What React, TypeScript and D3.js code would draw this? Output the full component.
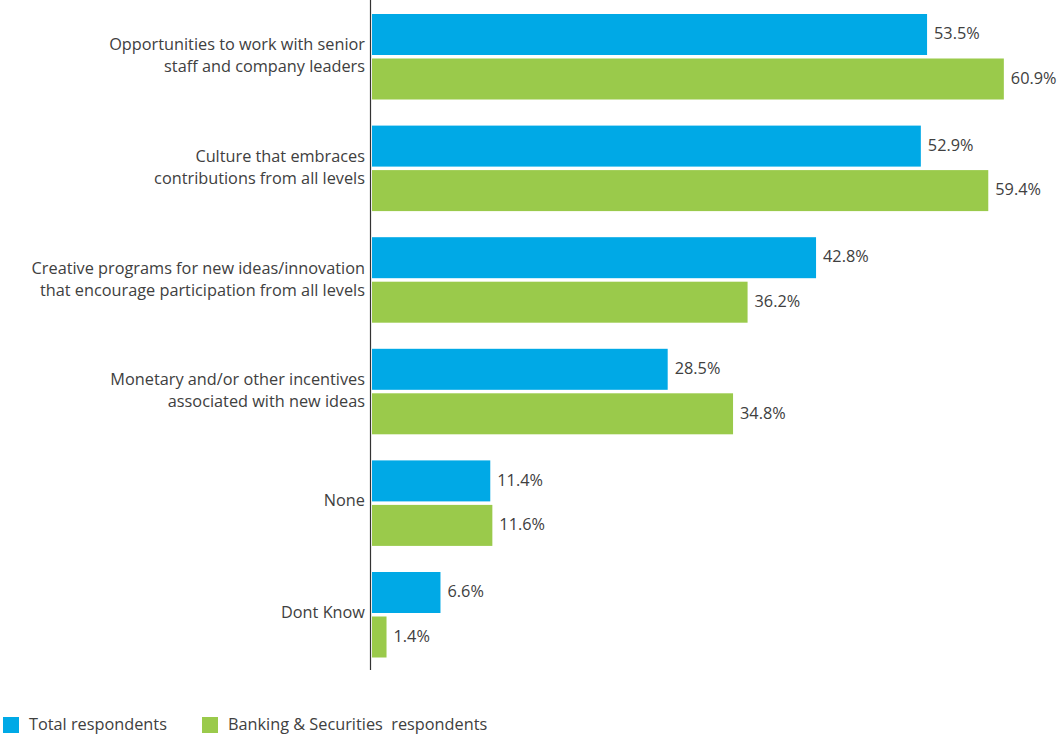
import React from "react";
import * as d3 from "d3";

const categories: string[][] = [
  ["Opportunities to work with senior", "staff and company leaders"],
  ["Culture that embraces", "contributions from all levels"],
  ["Creative programs for new ideas/innovation", "that encourage participation from all levels"],
  ["Monetary and/or other incentives", "associated with new ideas"],
  ["None"],
  ["Dont Know"],
];
const totalRespondents = [53.5, 52.9, 42.8, 28.5, 11.4, 6.6];
const bankingRespondents = [60.9, 59.4, 36.2, 34.8, 11.6, 1.4];
const seriesNames = ["Total respondents", "Banking & Securities  respondents"];
const colors = ["#00a9e6", "#9aca4b"];

const W = 1061;
const H = 735;
const FONT = "'Open Sans', 'Noto Sans', sans-serif";

export default function App() {
  const x0 = 372;
  const x = d3.scaleLinear().domain([0, 60]).range([x0, x0 + 60 * 10.375]);
  const y = d3.scaleBand<number>()
    .domain(d3.range(categories.length))
    .range([14, 14 + 111.6 * 6])
    .paddingInner(0)
    .paddingOuter(0);
  const barH = 41;
  const gap = 3.5;
  const series = [totalRespondents, bankingRespondents];

  return (
    <svg width={W} height={H} style={{ position: "absolute", left: 0, top: 0 }} fontFamily={FONT}>
      <rect width={W} height={H} fill="#fff" />
      {categories.map((lines, i) => {
        const top = y(i)!;
        const center = top + barH + gap / 2 - (lines.length === 1 ? 2.5 : 1);
        return (
          <g key={i}>
            {series.map((s, j) => {
              const by = top + j * (barH + gap);
              return (
                <g key={j}>
                  <rect x={x(0)} y={by} width={x(s[i]) - x(0)} height={barH} fill={colors[j]} />
                  <text
                    x={x(s[i]) + 7}
                    y={by + barH / 2 - 1}
                    dy="0.35em"
                    fontSize={16.3}
                    fill="#404040"
                  >
                    {s[i].toFixed(1)}%
                  </text>
                </g>
              );
            })}
            {lines.map((ln, k) => (
              <text
                key={k}
                x={365}
                y={center + (k - (lines.length - 1) / 2) * 22}
                dy="0.35em"
                textAnchor="end"
                fontSize={16.3}
                fill="#404040"
              >
                {ln}
              </text>
            ))}
          </g>
        );
      })}
      <line x1={370.5} x2={370.5} y1={0} y2={670} stroke="#333" strokeWidth={1.2} />
      {seriesNames.map((n, j) => {
        const lx = j === 0 ? 3 : 202;
        return (
          <g key={n}>
            <rect x={lx} y={717} width={16} height={16} fill={colors[j]} />
            <text x={lx + 26} y={730} fontSize={16.3} fill="#404040" style={{ whiteSpace: "pre" }}>
              {n}
            </text>
          </g>
        );
      })}
    </svg>
  );
}
